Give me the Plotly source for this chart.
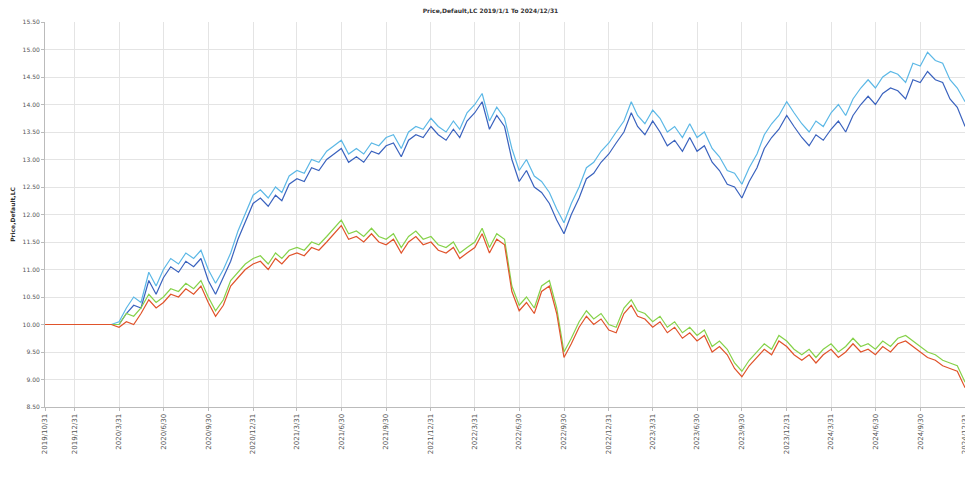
import pandas as pd
import plotly.graph_objects as go

title_text = "Price,Default,LC 2019/1/1 To 2024/12/31"
y_title = "Price,Default,LC"

dates = list(pd.date_range("2019-10-31", "2024-12-31", freq="SME"))
if dates[0] != pd.Timestamp("2019-10-31"):
    dates = [pd.Timestamp("2019-10-31")] + dates

light_blue = [10.0]*10 + [
    10.05, 10.3, 10.5, 10.4, 10.95, 10.7, 11.0, 11.2, 11.1, 11.3,
    11.2, 11.35, 11.0, 10.75, 11.0, 11.3, 11.7, 12.0, 12.35, 12.45,
    12.3, 12.5, 12.4, 12.7, 12.8, 12.75, 13.0, 12.95, 13.15, 13.25,
    13.35, 13.1, 13.2, 13.1, 13.3, 13.25, 13.4, 13.45, 13.2, 13.5,
    13.6, 13.55, 13.75, 13.6, 13.5, 13.7, 13.55, 13.85, 14.0, 14.2,
    13.7, 13.95, 13.75, 13.2, 12.8, 13.0, 12.7, 12.6, 12.4, 12.1,
    11.85, 12.2, 12.5, 12.85, 12.95, 13.15, 13.3, 13.5, 13.7, 14.05,
    13.8, 13.65, 13.9, 13.75, 13.5, 13.6, 13.4, 13.65, 13.4, 13.5,
    13.2, 13.05, 12.8, 12.75, 12.55, 12.85, 13.1, 13.45, 13.65, 13.8,
    14.05, 13.85, 13.65, 13.5, 13.7, 13.6, 13.85, 14.0, 13.8, 14.1,
    14.3, 14.45, 14.3, 14.5, 14.6, 14.55, 14.4, 14.75, 14.7, 14.95,
    14.8, 14.75, 14.45, 14.3, 14.05]

dark_blue = [10.0]*10 + [
    10.0, 10.2, 10.35, 10.3, 10.8, 10.55, 10.85, 11.05, 10.95, 11.15,
    11.05, 11.2, 10.8, 10.55, 10.85, 11.15, 11.55, 11.85, 12.2, 12.3,
    12.15, 12.35, 12.25, 12.55, 12.65, 12.6, 12.85, 12.8, 13.0, 13.1,
    13.2, 12.95, 13.05, 12.95, 13.15, 13.1, 13.25, 13.3, 13.05, 13.35,
    13.45, 13.4, 13.6, 13.45, 13.35, 13.55, 13.4, 13.7, 13.85, 14.05,
    13.55, 13.8, 13.6, 13.0, 12.6, 12.8, 12.5, 12.4, 12.2, 11.9,
    11.65, 12.0, 12.3, 12.65, 12.75, 12.95, 13.1, 13.3, 13.5, 13.85,
    13.6, 13.45, 13.7, 13.5, 13.25, 13.35, 13.15, 13.4, 13.15, 13.25,
    12.95, 12.8, 12.55, 12.5, 12.3, 12.6, 12.85, 13.2, 13.4, 13.55,
    13.8, 13.6, 13.4, 13.25, 13.45, 13.35, 13.55, 13.7, 13.5, 13.8,
    14.0, 14.15, 14.0, 14.2, 14.3, 14.25, 14.1, 14.45, 14.4, 14.6,
    14.45, 14.4, 14.1, 13.95, 13.6]

green = [10.0]*10 + [
    10.0, 10.2, 10.15, 10.3, 10.55, 10.4, 10.5, 10.65, 10.6, 10.75,
    10.65, 10.8, 10.5, 10.25, 10.45, 10.8, 10.95, 11.1, 11.2, 11.25,
    11.1, 11.3, 11.2, 11.35, 11.4, 11.35, 11.5, 11.45, 11.6, 11.75,
    11.9, 11.65, 11.7, 11.6, 11.75, 11.6, 11.55, 11.65, 11.4, 11.6,
    11.7, 11.55, 11.6, 11.45, 11.4, 11.5, 11.3, 11.4, 11.5, 11.75,
    11.4, 11.65, 11.55, 10.7, 10.35, 10.5, 10.3, 10.7, 10.8, 10.3,
    9.5, 9.75, 10.05, 10.25, 10.1, 10.2, 10.0, 9.95, 10.3, 10.45,
    10.25, 10.2, 10.05, 10.15, 9.95, 10.05, 9.85, 9.95, 9.8, 9.9,
    9.6, 9.7, 9.55, 9.3, 9.15, 9.35, 9.5, 9.65, 9.55, 9.8,
    9.7, 9.55, 9.45, 9.55, 9.4, 9.55, 9.65, 9.5, 9.6, 9.75,
    9.6, 9.65, 9.55, 9.7, 9.6, 9.75, 9.8, 9.7, 9.6, 9.5,
    9.45, 9.35, 9.3, 9.25, 8.95]

red = [10.0]*10 + [
    9.95, 10.05, 10.0, 10.2, 10.45, 10.3, 10.4, 10.55, 10.5, 10.65,
    10.55, 10.7, 10.4, 10.15, 10.35, 10.7, 10.85, 11.0, 11.1, 11.15,
    11.0, 11.2, 11.1, 11.25, 11.3, 11.25, 11.4, 11.35, 11.5, 11.65,
    11.8, 11.55, 11.6, 11.5, 11.65, 11.5, 11.45, 11.55, 11.3, 11.5,
    11.6, 11.45, 11.5, 11.35, 11.3, 11.4, 11.2, 11.3, 11.4, 11.65,
    11.3, 11.55, 11.45, 10.6, 10.25, 10.4, 10.2, 10.6, 10.7, 10.2,
    9.4, 9.65, 9.95, 10.15, 10.0, 10.1, 9.9, 9.85, 10.2, 10.35,
    10.15, 10.1, 9.95, 10.05, 9.85, 9.95, 9.75, 9.85, 9.7, 9.8,
    9.5, 9.6, 9.45, 9.2, 9.05, 9.25, 9.4, 9.55, 9.45, 9.7,
    9.6, 9.45, 9.35, 9.45, 9.3, 9.45, 9.55, 9.4, 9.5, 9.65,
    9.5, 9.55, 9.45, 9.6, 9.5, 9.65, 9.7, 9.6, 9.5, 9.4,
    9.35, 9.25, 9.2, 9.15, 8.85]

tick_dates = ["2019-10-31", "2019-12-31", "2020-03-31", "2020-06-30", "2020-09-30",
              "2020-12-31", "2021-03-31", "2021-06-30", "2021-09-30", "2021-12-31",
              "2022-03-31", "2022-06-30", "2022-09-30", "2022-12-31", "2023-03-31",
              "2023-06-30", "2023-09-30", "2023-12-31", "2024-03-31", "2024-06-30",
              "2024-09-30", "2024-12-31"]
tick_labels = ["2019/10/31", "2019/12/31", "2020/3/31", "2020/6/30", "2020/9/30",
               "2020/12/31", "2021/3/31", "2021/6/30", "2021/9/30", "2021/12/31",
               "2022/3/31", "2022/6/30", "2022/9/30", "2022/12/31", "2023/3/31",
               "2023/6/30", "2023/9/30", "2023/12/31", "2024/3/31", "2024/6/30",
               "2024/9/30", "2024/12/31"]
y_ticks = [8.5, 9.0, 9.5, 10.0, 10.5, 11.0, 11.5, 12.0, 12.5, 13.0, 13.5, 14.0, 14.5, 15.0, 15.5]

series = [
    ("Series 1", light_blue, "#5cb8e6"),
    ("Series 2", dark_blue, "#3a62be"),
    ("Series 3", green, "#86d24a"),
    ("Series 4", red, "#e0532b"),
]

fig = go.Figure()
for name, vals, col in series:
    n = min(len(dates), len(vals))
    fig.add_trace(go.Scatter(x=dates[:n], y=vals[:n], mode="lines", name=name,
                             line=dict(color=col, width=1.2)))

fig.update_layout(
    width=965, height=484,
    margin=dict(l=37, r=5, t=14, b=85),
    paper_bgcolor="white", plot_bgcolor="white",
    showlegend=False,
    font=dict(family="DejaVu Sans", size=7, color="#444"),
    title=dict(text="<b>" + title_text + "</b>", x=0.5, xanchor="center",
               y=0.998, yanchor="top", font=dict(size=6, color="#333")),
)
fig.update_xaxes(
    type="date", range=["2019-10-31", "2025-01-06"],
    tickmode="array", tickvals=tick_dates, ticktext=tick_labels,
    tickangle=-90, tickfont=dict(size=7, color="#555"),
    showgrid=True, gridcolor="#e4e4e4", gridwidth=1,
    showline=True, linecolor="#bbbbbb", ticks="outside", ticklen=3, tickcolor="#bbbbbb",
    zeroline=False, automargin=False,
)
fig.update_yaxes(
    range=[8.5, 15.5], tickmode="array", tickvals=y_ticks,
    ticktext=[f"{v:.2f}" for v in y_ticks], tickfont=dict(size=6, color="#555"),
    showgrid=True, gridcolor="#e4e4e4", gridwidth=1,
    showline=True, linecolor="#bbbbbb", ticks="outside", ticklen=3, tickcolor="#bbbbbb",
    zeroline=False, automargin=False,
    title=dict(text="<b>" + y_title + "</b>", font=dict(size=6, color="#333"), standoff=6),
)

fig.write_html("out.html")
